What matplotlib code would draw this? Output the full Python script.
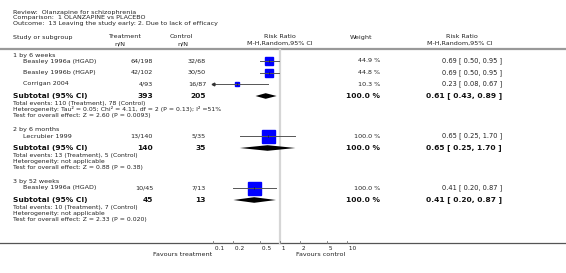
import numpy as np
from matplotlib import pyplot as plt

# Forest plot data: Olanzapine vs placebo, leaving the study early (lack of efficacy)

groupNames = ["1 by 6 weeks", "2 by 6 months", "3 by 52 weeks"]

studyNames = ["Beasley 1996a (HGAD)", "Beasley 1996b (HGAP)", "Corrigan 2004",
              "Lecrubier 1999",
              "Beasley 1996a (HGAD)"]
studyGroup = [0, 0, 0, 1, 2]
treatNN = ["64/198", "42/102", "4/93", "13/140", "10/45"]
ctrlNN = ["32/68", "30/50", "16/87", "5/35", "7/13"]
weights = [44.9, 44.8, 10.3, 100.0, 100.0]
rr = [0.69, 0.69, 0.23, 0.65, 0.41]
rrLow = [0.50, 0.50, 0.08, 0.25, 0.20]
rrHigh = [0.95, 0.95, 0.67, 1.70, 0.87]

subTreat = [393, 140, 45]
subCtrl = [205, 35, 13]
subRR = [0.61, 0.65, 0.41]
subLow = [0.43, 0.25, 0.20]
subHigh = [0.89, 1.70, 0.87]
subEvents = ["Total events: 110 (Treatment), 78 (Control)",
             "Total events: 13 (Treatment), 5 (Control)",
             "Total events: 10 (Treatment), 7 (Control)"]
subHetero = ["Heterogeneity: Tau\u00b2 = 0.05; Chi\u00b2 = 4.11, df = 2 (P = 0.13); I\u00b2 =51%",
             "Heterogeneity: not applicable",
             "Heterogeneity: not applicable"]
subTest = ["Test for overall effect: Z = 2.60 (P = 0.0093)",
           "Test for overall effect: Z = 0.88 (P = 0.38)",
           "Test for overall effect: Z = 2.33 (P = 0.020)"]

tickVals = [0.1, 0.2, 0.5, 1, 2, 5, 10]
tickLabels = ["0.1", "0.2", "0.5", "1", "2", "5", "10"]

W, H = 566, 273
txt = '#222222'

fig = plt.figure(figsize=(W / 100, H / 100), dpi=100)
ax = fig.add_axes([0, 0, 1, 1])
ax.set_xlim(0, W)
ax.set_ylim(H, 0)
ax.axis('off')

# forest panel: log axis from 0.1 to 10, same pixel rows as base axes
fx0, fx1 = 213.3, 346.7
fax = fig.add_axes([fx0 / W, 0, (fx1 - fx0) / W, 1])
fax.set_xscale('log')
fax.set_xlim(0.1, 10)
fax.set_ylim(H, 0)
fax.axis('off')
fax.patch.set_alpha(0)

# title block
ts = 4.6
ax.text(13, 12.5, "Review:  Olanzapine for schizophrenia", fontsize=ts, color=txt, va='center')
ax.text(13, 18, "Comparison:  1 OLANZAPINE vs PLACEBO", fontsize=ts, color=txt, va='center')
ax.text(13, 24, "Outcome:  13 Leaving the study early: 2. Due to lack of efficacy", fontsize=ts, color=txt, va='center')

# column headers
hs = 4.6
ax.text(13, 37, "Study or subgroup", fontsize=hs, color=txt, va='center')
ax.text(124, 37, "Treatment", fontsize=hs, color=txt, va='center', ha='center')
ax.text(120, 43.5, "n/N", fontsize=hs, color=txt, va='center', ha='center')
ax.text(181, 37, "Control", fontsize=hs, color=txt, va='center', ha='center')
ax.text(183, 43.5, "n/N", fontsize=hs, color=txt, va='center', ha='center')
ax.text(280, 37, "Risk Ratio", fontsize=hs, color=txt, va='center', ha='center')
ax.text(280, 43.5, "M-H,Random,95% CI", fontsize=hs, color=txt, va='center', ha='center')
ax.text(361, 37, "Weight", fontsize=hs, color=txt, va='center', ha='center')
ax.text(462, 37, "Risk Ratio", fontsize=hs, color=txt, va='center', ha='center')
ax.text(460, 43.5, "M-H,Random,95% CI", fontsize=hs, color=txt, va='center', ha='center')
ax.plot([0, W], [49, 49], color='#999999', lw=1.6)

# vertical line of no effect
fax.plot([1, 1], [50, 243], color='#d6d6d6', lw=1.6, zorder=0)

ds = 4.6   # study row font size
bs = 5.4   # bold subtotal size
fs = 4.4   # footnote size

y = 55
for g, gname in enumerate(groupNames):
    ax.text(13, y, gname, fontsize=ds, color=txt, va='center')
    y += 6
    idx = [i for i in range(len(studyNames)) if studyGroup[i] == g]
    for k, i in enumerate(idx):
        if k > 0:
            y += 11.5
        ax.text(23, y, studyNames[i], fontsize=ds, color=txt, va='center')
        ax.text(153, y, treatNN[i], fontsize=ds, color=txt, va='center', ha='right')
        ax.text(206, y, ctrlNN[i], fontsize=ds, color=txt, va='center', ha='right')
        ax.text(380, y, "%.1f %%" % weights[i], fontsize=ds, color=txt, va='center', ha='right')
        ax.text(502, y, "%.2f [ %.2f, %.2f ]" % (rr[i], rrLow[i], rrHigh[i]),
                fontsize=4.8, color=txt, va='center', ha='right')
        side = 13 * (weights[i] / 100) ** 0.6
        fax.plot(rr[i], y, marker='s', ms=side * 0.72, color='#0000ff', mec='#0000ff', zorder=2)
        lo = max(rrLow[i], 0.1)
        hi = min(rrHigh[i], 10)
        fax.plot([lo, hi], [y, y], color='#555555', lw=0.7, zorder=3)
        fax.plot([rr[i], rr[i]], [y - 1, y + 1], color='#222222', lw=0.5, zorder=3)
        if rrLow[i] < 0.1:
            fax.plot(0.1, y, marker='<', ms=2, color='#333333', zorder=3, clip_on=False)
    y += 12
    ax.text(13, y, "Subtotal (95% CI)", fontsize=bs, color='#111111', va='center', fontweight='bold')
    ax.text(153, y, str(subTreat[g]), fontsize=bs, color='#111111', va='center', ha='right', fontweight='bold')
    ax.text(206, y, str(subCtrl[g]), fontsize=bs, color='#111111', va='center', ha='right', fontweight='bold')
    ax.text(380, y, "100.0 %", fontsize=bs, color='#111111', va='center', ha='right', fontweight='bold')
    ax.text(502, y, "%.2f [ %.2f, %.2f ]" % (subRR[g], subLow[g], subHigh[g]),
            fontsize=bs, color='#111111', va='center', ha='right', fontweight='bold')
    h = 2.8
    fax.fill([subLow[g], subRR[g], subHigh[g], subRR[g]], [y, y - h, y, y + h],
             color='black', lw=0, zorder=3)
    y += 7
    ax.text(13, y, subEvents[g], fontsize=fs, color=txt, va='center')
    y += 6.5
    ax.text(13, y, subHetero[g], fontsize=fs, color=txt, va='center')
    y += 6.5
    ax.text(13, y, subTest[g], fontsize=fs, color=txt, va='center')
    y += 14

# bottom axis
ax.plot([0, W], [243, 243], color='#555555', lw=0.9)
for t, lab in zip(tickVals, tickLabels):
    fax.plot([t, t], [241.3, 243], color='#777777', lw=0.6, clip_on=False)
    fax.text(t, 248, " " + lab, fontsize=4.2, color=txt, va='center', ha='left', clip_on=False)
ax.text(212.5, 254, "Favours treatment", fontsize=4.6, color=txt, va='center', ha='right')
ax.text(296, 254, "Favours control", fontsize=4.6, color=txt, va='center', ha='left')

plt.savefig('out.png', dpi=100)
